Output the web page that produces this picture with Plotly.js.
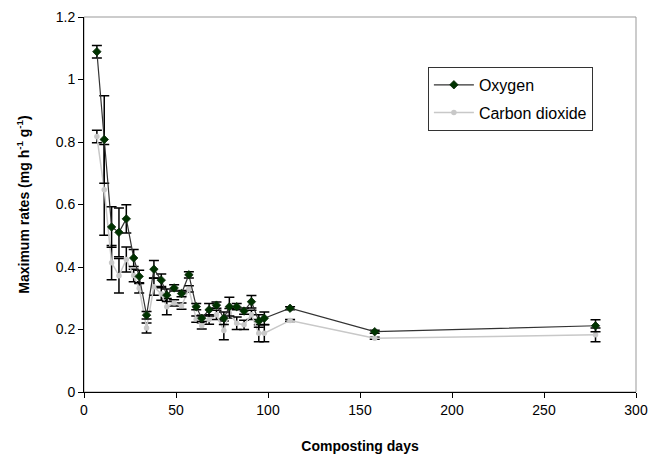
<!DOCTYPE html>
<html>
<head>
<meta charset="utf-8">
<script src="https://cdn.plot.ly/plotly-3.0.1.min.js"></script>
<style>html,body{margin:0;padding:0;background:#fff}#chart{width:649px;height:455px}</style>
</head>
<body>
<div id="chart"></div>
<script>
const days = [7, 11, 15, 19, 23, 27, 30, 34, 38, 42, 45, 49, 53, 57, 61, 64, 68, 72, 76, 79, 83, 87, 91, 95, 98, 112, 158, 278];
const oxygen = [1.089, 0.808, 0.528, 0.511, 0.554, 0.429, 0.370, 0.246, 0.393, 0.358, 0.310, 0.333, 0.315, 0.375, 0.273, 0.236, 0.263, 0.278, 0.236, 0.273, 0.273, 0.259, 0.289, 0.227, 0.236, 0.268, 0.193, 0.212];
const oxygenErr = [0.02, 0.14, 0.065, 0.078, 0.045, 0.027, 0.02, 0.012, 0.028, 0.02, 0.02, 0.01, 0.01, 0.01, 0.01, 0.01, 0.02, 0.01, 0.02, 0.03, 0.01, 0.01, 0.02, 0.02, 0.02, 0.005, 0.005, 0.019];
const co2 = [0.818, 0.647, 0.414, 0.372, 0.424, 0.373, 0.332, 0.205, 0.337, 0.314, 0.273, 0.285, 0.275, 0.330, 0.233, 0.212, 0.232, 0.247, 0.197, 0.252, 0.220, 0.215, 0.247, 0.188, 0.188, 0.229, 0.172, 0.183];
const co2Err = [0.02, 0.145, 0.055, 0.055, 0.04, 0.02, 0.015, 0.016, 0.027, 0.02, 0.026, 0.01, 0.01, 0.01, 0.01, 0.01, 0.015, 0.015, 0.03, 0.015, 0.02, 0.015, 0.015, 0.027, 0.027, 0.003, 0.003, 0.022];
const xTicks = [0, 50, 100, 150, 200, 250, 300];
const yTicks = [0, 0.2, 0.4, 0.6, 0.8, 1, 1.2];

const font = {family: 'Liberation Sans, Arial, sans-serif', color: '#000'};

const traces = [
  {
    x: days, y: co2, name: 'Carbon dioxide', type: 'scatter', mode: 'lines+markers',
    legendgroup: 'b', legendrank: 2,
    line: {color: '#c8c8c8', width: 1.5},
    marker: {color: '#c8c8c8', size: 5.5, symbol: 'circle'},
    error_y: {type: 'data', array: co2Err, visible: true, color: '#000', thickness: 1.5, width: 5}
  },
  {
    x: days, y: oxygen, name: 'Oxygen', type: 'scatter', mode: 'lines+markers',
    legendgroup: 'a', legendrank: 1,
    line: {color: '#333333', width: 1.2},
    marker: {color: '#003300', size: 6.5, symbol: 'diamond', line: {color: '#0a2a0a', width: 0.8}},
    error_y: {type: 'data', array: oxygenErr, visible: true, color: '#000', thickness: 1.5, width: 5}
  }
];

const layout = {
  width: 649, height: 455,
  margin: {l: 84, r: 13, t: 17, b: 63},
  paper_bgcolor: '#fff', plot_bgcolor: '#fff',
  font: Object.assign({size: 14}, font),
  showlegend: true,
  legend: {
    x: 0.623, y: 0.867, xanchor: 'left', yanchor: 'top',
    bgcolor: '#fff', bordercolor: '#333', borderwidth: 1,
    font: Object.assign({size: 16}, font),
    traceorder: 'grouped', itemwidth: 40, tracegroupgap: 4,
    itemsizing: 'trace'
  },
  xaxis: {
    range: [0, 300], tickvals: xTicks, ticktext: xTicks.map(String),
    showgrid: false, zeroline: false, showline: true, linecolor: '#000', linewidth: 1,
    ticks: 'outside', ticklen: 5, tickcolor: '#000',
    tickfont: Object.assign({size: 14}, font),
    title: {text: '<b>Composting days</b>', font: Object.assign({size: 14}, font), standoff: 24}
  },
  yaxis: {
    range: [0, 1.2], tickvals: yTicks, ticktext: yTicks.map(String),
    showgrid: false, zeroline: false, showline: true, linecolor: '#000', linewidth: 1,
    ticks: 'outside', ticklen: 5, tickcolor: '#000',
    tickfont: Object.assign({size: 14}, font),
    title: {text: '<b>Maximum rates (mg h<sup>-1</sup> g<sup>-1</sup>)</b>', font: Object.assign({size: 14}, font), standoff: 22}
  },
  shapes: [
    {type: 'rect', xref: 'paper', yref: 'paper', x0: 0, x1: 1, y0: 0, y1: 1,
     line: {color: '#999', width: 1}, layer: 'below'}
  ]
};

Plotly.newPlot('chart', traces, layout, {displayModeBar: false, staticPlot: true});
</script>
</body>
</html>
